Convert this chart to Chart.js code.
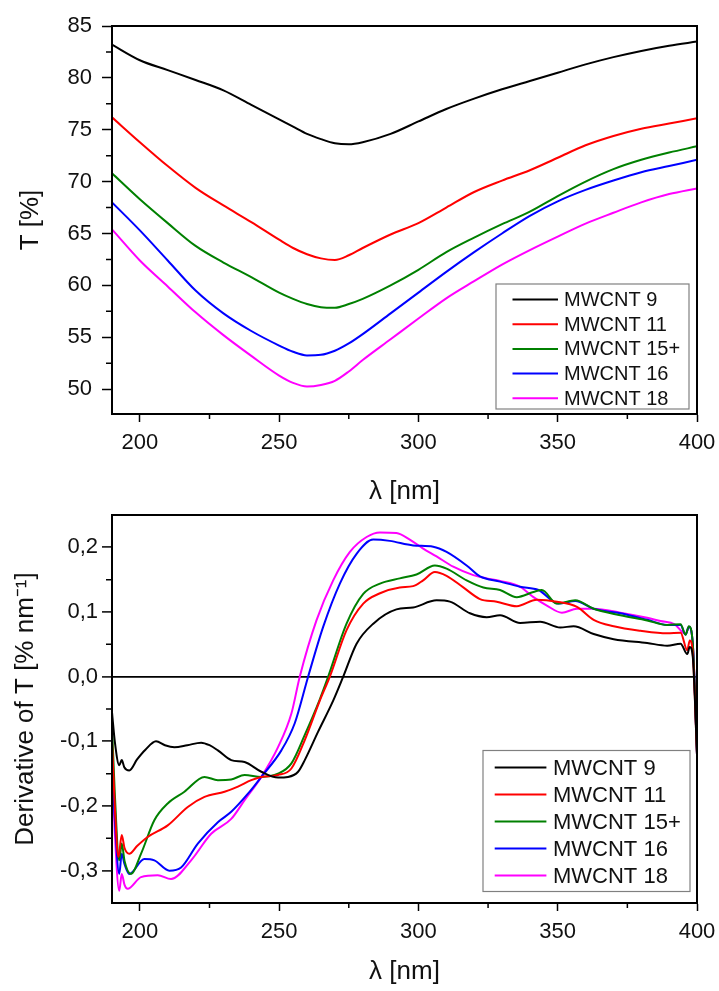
<!DOCTYPE html>
<html>
<head>
<meta charset="utf-8">
<script src="https://cdn.jsdelivr.net/npm/chart.js@4.4.1/dist/chart.umd.min.js"></script>
<style>
  body { margin: 0; background: #fff; }
  #wrap { position: relative; width: 719px; height: 991px; }
  #transChart { position: absolute; left: 0; top: 0; }
  #derivChart { position: absolute; left: 0; top: 500px; }
</style>
</head>
<body>
<div id="wrap">
  <canvas id="transChart" width="719" height="511"></canvas>
  <canvas id="derivChart" width="719" height="491"></canvas>
</div>
<script>
const seriesLabels = ['MWCNT 9', 'MWCNT 11', 'MWCNT 15+', 'MWCNT 16', 'MWCNT 18'];
const seriesColors = ['#000000', '#ff0000', '#008000', '#0000ff', '#ff00ff'];

// transmittance, T [%]
const lambda = [190, 200, 210, 220, 230, 240, 250, 255, 260, 265, 270, 275, 280, 290, 300, 310, 320, 330, 340, 350, 360, 370, 380, 390, 400];
const trans9  = [83.2, 81.7, 80.75, 79.8, 78.8, 77.4, 76.0, 75.3, 74.6, 74.1, 73.7, 73.6, 73.8, 74.6, 75.8, 77.0, 78.0, 78.9, 79.7, 80.5, 81.3, 82.0, 82.6, 83.1, 83.5];
const trans11 = [76.2, 73.8, 71.5, 69.4, 67.7, 66.1, 64.4, 63.6, 63.0, 62.6, 62.45, 62.9, 63.6, 64.9, 66.0, 67.5, 69.0, 70.1, 71.1, 72.3, 73.5, 74.4, 75.1, 75.6, 76.1];
const trans15 = [70.8, 68.3, 66.0, 63.8, 62.2, 60.8, 59.3, 58.7, 58.2, 57.9, 57.85, 58.2, 58.7, 60.0, 61.5, 63.2, 64.6, 65.9, 67.1, 68.6, 70.0, 71.2, 72.1, 72.8, 73.4];
const trans16 = [68.0, 65.3, 62.4, 59.5, 57.3, 55.6, 54.2, 53.6, 53.25, 53.3, 53.7, 54.4, 55.3, 57.3, 59.3, 61.3, 63.2, 65.0, 66.7, 68.1, 69.2, 70.1, 70.9, 71.5, 72.1];
const trans18 = [65.4, 62.4, 59.9, 57.4, 55.2, 53.2, 51.3, 50.6, 50.25, 50.4, 50.8, 51.7, 52.8, 54.8, 56.8, 58.75, 60.4, 62.0, 63.4, 64.7, 65.95, 67.0, 68.0, 68.8, 69.35];

// derivative of T [% nm-1]
const derX9  = [190, 191, 192.6, 193.5, 194.4, 196.2, 199, 202, 205.8, 209, 212.4, 217, 222, 225, 228, 232.8, 237.6, 243.6, 249.6, 253.2, 256.8, 259.2, 264, 269.4, 273, 277.8, 283.8, 292.1, 298.1, 306.5, 311.3, 318.5, 324.5, 329.3, 336.5, 343.7, 350.9, 355.7, 362.9, 370.1, 382.1, 389.3, 394.1, 396.5, 397.4, 398.5, 400];
const derY9  = [-0.055, -0.10, -0.137, -0.129, -0.140, -0.145, -0.128, -0.113, -0.100, -0.106, -0.109, -0.106, -0.102, -0.106, -0.114, -0.129, -0.132, -0.147, -0.156, -0.155, -0.147, -0.129, -0.085, -0.037, 0, 0.051, 0.082, 0.104, 0.107, 0.118, 0.116, 0.098, 0.092, 0.095, 0.083, 0.085, 0.076, 0.078, 0.066, 0.058, 0.052, 0.048, 0.051, 0.035, 0.046, 0.03, -0.12];
const derX11 = [190, 191, 192.3, 193.5, 194.5, 196.2, 199, 202.8, 210, 217.2, 223.2, 230.4, 235.2, 240, 243.6, 249.6, 254.4, 259.2, 264.6, 268.2, 274.2, 280.2, 286.2, 293.3, 298.1, 301.7, 305.9, 310.1, 316.1, 322.1, 328.1, 335.3, 342.5, 349.7, 356.9, 362.9, 370.1, 379.7, 389.3, 394.1, 396.5, 397.4, 398.5, 400];
const derY11 = [-0.10, -0.20, -0.279, -0.245, -0.265, -0.274, -0.262, -0.248, -0.230, -0.2015, -0.186, -0.178, -0.170, -0.160, -0.155, -0.152, -0.142, -0.098, -0.037, 0, 0.072, 0.113, 0.129, 0.138, 0.140, 0.149, 0.162, 0.156, 0.138, 0.120, 0.116, 0.109, 0.119, 0.116, 0.108, 0.088, 0.078, 0.071, 0.067, 0.068, 0.041, 0.056, 0.035, -0.12];
const derX15 = [190, 191, 192.6, 193.5, 194.5, 196.8, 200.4, 205.2, 210, 216, 223.2, 228, 232.8, 237.6, 243.6, 249.6, 254.4, 259.2, 264.6, 267.6, 274.2, 280.2, 286.2, 293.3, 299.3, 305.9, 310.1, 317.3, 323.3, 329.3, 335.3, 341.3, 344.3, 349.7, 356.3, 362.9, 372.5, 382.1, 389.3, 394.1, 395.9, 397.1, 398.5, 400];
const derY15 = [-0.075, -0.18, -0.284, -0.258, -0.285, -0.305, -0.274, -0.222, -0.196, -0.178, -0.155, -0.160, -0.159, -0.152, -0.155, -0.150, -0.134, -0.090, -0.035, 0, 0.082, 0.128, 0.144, 0.152, 0.158, 0.172, 0.167, 0.149, 0.138, 0.134, 0.123, 0.131, 0.134, 0.113, 0.118, 0.105, 0.095, 0.087, 0.080, 0.081, 0.065, 0.078, 0.05, -0.12];
const derX16 = [190, 191, 192.6, 193.5, 194.5, 196.2, 201.6, 205.2, 210.6, 214.8, 220.8, 228, 232.8, 238.8, 243.6, 250.8, 255.6, 260.4, 265.8, 271.8, 277.8, 283.8, 289.7, 298.1, 305.3, 310.1, 317.3, 322.1, 329.3, 336.5, 343.1, 350.3, 356.3, 362.9, 372.5, 382.1, 389.3, 394.1, 395.9, 397.1, 398.5, 400];
const derY16 = [-0.13, -0.22, -0.305, -0.274, -0.290, -0.305, -0.282, -0.284, -0.300, -0.295, -0.258, -0.225, -0.209, -0.181, -0.155, -0.114, -0.072, 0, 0.077, 0.144, 0.190, 0.212, 0.210, 0.203, 0.201, 0.193, 0.172, 0.155, 0.147, 0.139, 0.134, 0.113, 0.117, 0.105, 0.098, 0.088, 0.080, 0.080, 0.065, 0.077, 0.05, -0.12];
const derX18 = [190, 191, 192.6, 193.5, 194.5, 195.6, 200.4, 206.4, 211.2, 218.4, 225.6, 232.8, 237.6, 243.6, 249.6, 254.4, 257.4, 263.4, 269.4, 275.4, 281.4, 286.2, 292.1, 296.9, 301.7, 306.5, 312.5, 319.7, 324.5, 329.3, 336.5, 341.3, 346.1, 351.5, 356.9, 362.9, 372.5, 382.1, 386.9, 392, 395.9, 397.1, 398.5, 400];
const derY18 = [-0.13, -0.24, -0.331, -0.305, -0.322, -0.328, -0.310, -0.307, -0.313, -0.284, -0.243, -0.220, -0.191, -0.155, -0.109, -0.057, 0, 0.087, 0.149, 0.193, 0.216, 0.223, 0.222, 0.212, 0.198, 0.186, 0.170, 0.157, 0.152, 0.148, 0.139, 0.123, 0.110, 0.099, 0.105, 0.105, 0.099, 0.091, 0.086, 0.081, 0.066, 0.077, 0.05, -0.12];

// axis ticks
const xTicks = [200, 250, 300, 350, 400];
const xMinor = [225, 275, 325, 375];
const transTicks = [50, 55, 60, 65, 70, 75, 80, 85];
const transMinor = [52.5, 57.5, 62.5, 67.5, 72.5, 77.5, 82.5];
const derTicks = [-0.3, -0.2, -0.1, 0, 0.1, 0.2];
const derMinor = [-0.25, -0.15, -0.05, 0.05, 0.15];

const FONT = "'Liberation Sans', Arial, sans-serif";
const TXT = '#111';

function pts(xs, ys) {
    return xs.map((x, i) => ({ x: x, y: ys[i] }));
}

function makeSets(list) {
    return list.map(([xs, ys], i) => ({
        label: seriesLabels[i],
        data: pts(xs, ys),
        borderColor: seriesColors[i],
        borderWidth: 2,
        pointRadius: 0,
        fill: false,
        cubicInterpolationMode: 'monotone'
    }));
}

// box around the plot plus minor ticks
const axisFrame = {
    id: 'axisFrame',
    afterDatasetsDraw(chart, args, opts) {
        const { ctx, chartArea: a, scales: { x, y } } = chart;
        ctx.save();
        ctx.strokeStyle = '#000';
        ctx.lineWidth = 2;
        ctx.strokeRect(a.left, a.top, a.right - a.left, a.bottom - a.top);
        ctx.lineWidth = 1.5;
        ctx.beginPath();
        opts.xMinor.forEach(v => {
            const px = x.getPixelForValue(v);
            ctx.moveTo(px, a.bottom);
            ctx.lineTo(px, a.bottom + 5);
        });
        opts.yMinor.forEach(v => {
            const py = y.getPixelForValue(v);
            ctx.moveTo(a.left, py);
            ctx.lineTo(a.left - 6, py);
        });
        ctx.stroke();
        ctx.restore();
    }
};

// boxed legend sitting in the lower right corner of the plot
const boxLegend = {
    id: 'boxLegend',
    afterDraw(chart, args, o) {
        const { ctx, chartArea: a } = chart;
        const left = a.right - o.dx - o.w;
        const top = a.bottom - o.dy - o.h;
        ctx.save();
        ctx.fillStyle = '#fff';
        ctx.fillRect(left, top, o.w, o.h);
        ctx.strokeStyle = '#808080';
        ctx.lineWidth = 1.2;
        ctx.strokeRect(left, top, o.w, o.h);
        ctx.font = o.fontSize + 'px ' + FONT;
        ctx.textBaseline = 'middle';
        chart.data.datasets.forEach((ds, i) => {
            const yy = top + o.first + i * o.rowH;
            ctx.strokeStyle = ds.borderColor;
            ctx.lineWidth = 2;
            ctx.beginPath();
            ctx.moveTo(left + o.lineX0, yy);
            ctx.lineTo(left + o.lineX1, yy);
            ctx.stroke();
            ctx.fillStyle = TXT;
            ctx.fillText(ds.label, left + o.textX, yy + 1);
        });
        ctx.restore();
    }
};

function xScale(h) {
    return {
        type: 'linear',
        min: 190,
        max: 400,
        afterBuildTicks: s => { s.ticks = xTicks.map(v => ({ value: v })); },
        afterFit: s => { s.height = h; s.paddingLeft = 0; s.paddingRight = 0; },
        ticks: { color: TXT, font: { family: FONT, size: 22 }, padding: 8, maxRotation: 0 },
        grid: { drawOnChartArea: false, tickLength: 8, tickWidth: 1.5, tickColor: '#000' },
        border: { display: true, color: '#000', width: 2 },
        title: { display: true, text: 'λ [nm]', color: TXT, font: { family: FONT, size: 26 }, padding: { top: 4, bottom: 4 } }
    };
}

new Chart(document.getElementById('transChart'), {
    type: 'line',
    data: {
        datasets: makeSets([
            [lambda, trans9], [lambda, trans11], [lambda, trans15], [lambda, trans16], [lambda, trans18]
        ])
    },
    options: {
        responsive: false,
        animation: false,
        layout: { padding: { top: 26, right: 22, left: 0, bottom: 0 } },
        plugins: {
            legend: { display: false },
            tooltip: { enabled: false },
            axisFrame: { xMinor: xMinor, yMinor: transMinor },
            boxLegend: { w: 193, h: 125, dx: 8, dy: 5, first: 15.5, rowH: 24.7, lineX0: 16.5, lineX1: 62, textX: 68, fontSize: 20 }
        },
        scales: {
            x: xScale(97),
            y: {
                type: 'linear',
                min: 47.6,
                max: 85,
                afterBuildTicks: s => { s.ticks = transTicks.map(v => ({ value: v })); },
                afterFit: s => { s.width = 112; s.paddingTop = 0; s.paddingBottom = 0; },
                ticks: { color: TXT, font: { family: FONT, size: 22 }, padding: 10 },
                grid: { drawOnChartArea: false, tickLength: 10, tickWidth: 1.5, tickColor: '#000' },
                border: { display: true, color: '#000', width: 2 },
                title: { display: true, text: 'T [%]', color: TXT, font: { family: FONT, size: 26 }, padding: { top: 15, bottom: 4 } }
            }
        }
    },
    plugins: [axisFrame, boxLegend]
});

new Chart(document.getElementById('derivChart'), {
    type: 'line',
    data: {
        datasets: makeSets([
            [derX9, derY9], [derX11, derY11], [derX15, derY15], [derX16, derY16], [derX18, derY18]
        ])
    },
    options: {
        responsive: false,
        animation: false,
        layout: { padding: { top: 15, right: 22, left: 0, bottom: 0 } },
        plugins: {
            legend: { display: false },
            tooltip: { enabled: false },
            axisFrame: { xMinor: xMinor, yMinor: derMinor },
            boxLegend: { w: 207, h: 141, dx: 7, dy: 11.5, first: 17, rowH: 27, lineX0: 11.7, lineX1: 63.4, textX: 70, fontSize: 22 }
        },
        scales: {
            x: xScale(88),
            y: {
                type: 'linear',
                min: -0.35,
                max: 0.25,
                afterBuildTicks: s => { s.ticks = derTicks.map(v => ({ value: v })); },
                afterFit: s => { s.width = 112; s.paddingTop = 0; s.paddingBottom = 0; },
                ticks: {
                    color: TXT, font: { family: FONT, size: 22 }, padding: 4,
                    callback: v => v.toFixed(1).replace('.', ',')
                },
                grid: {
                    drawOnChartArea: true,
                    color: c => (c.tick && c.tick.value === 0) ? '#000' : 'rgba(0,0,0,0)',
                    lineWidth: 1.8,
                    tickLength: 10, tickWidth: 1.5, tickColor: '#000'
                },
                border: { display: true, color: '#000', width: 2 },
                title: { display: true, text: 'Derivative of T [% nm⁻¹]', color: TXT, font: { family: FONT, size: 26 }, padding: { top: 10, bottom: 4 } }
            }
        }
    },
    plugins: [axisFrame, boxLegend]
});
</script>
</body>
</html>
